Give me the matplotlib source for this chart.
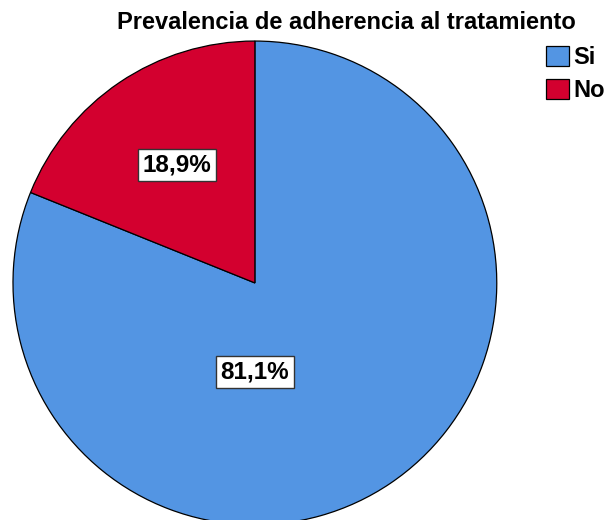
import matplotlib.pyplot as plt
import numpy as np

plt.rcParams['font.family'] = ['Liberation Sans', 'DejaVu Sans']

categories = ['Si', 'No']
values = [81.1, 18.9]
colors = ['#5395E3', '#D3002F']
# label anchor points (fraction of radius), as the source program places them
label_pos = [(0.0, -0.368), (-0.322, 0.488)]

fig = plt.figure(figsize=(6.07, 5.2), dpi=100)
ax = fig.add_axes([0.0214, -0.0096, 0.797, 0.931])

wedges, _ = ax.pie(values, colors=colors, startangle=90, counterclock=False,
                   radius=1, wedgeprops=dict(edgecolor='black', linewidth=0.9))
ax.set_xlim(-1, 1)
ax.set_ylim(-1, 1)
ax.set_aspect('equal')
ax.axis('off')

for v, (x, y) in zip(values, label_pos):
    ax.text(x, y, f'{v:.1f}%'.replace('.', ','), ha='center', va='center',
            fontsize=17.5, fontweight='bold',
            bbox=dict(facecolor='white', edgecolor='#333333', boxstyle='square,pad=0.2', linewidth=1))

fig.text(0.570, 0.956, 'Prevalencia de adherencia al tratamiento', ha='center', va='center',
         fontsize=17, fontweight='bold')

fig.legend(wedges, categories, loc='upper left', bbox_to_anchor=(0.900, 0.912),
           frameon=False, prop=dict(weight='bold', size=17),
           handlelength=0.95, handleheight=0.95, handletextpad=0.2, labelspacing=0.4,
           borderpad=0, borderaxespad=0)

fig.savefig('out.png', dpi=100)
